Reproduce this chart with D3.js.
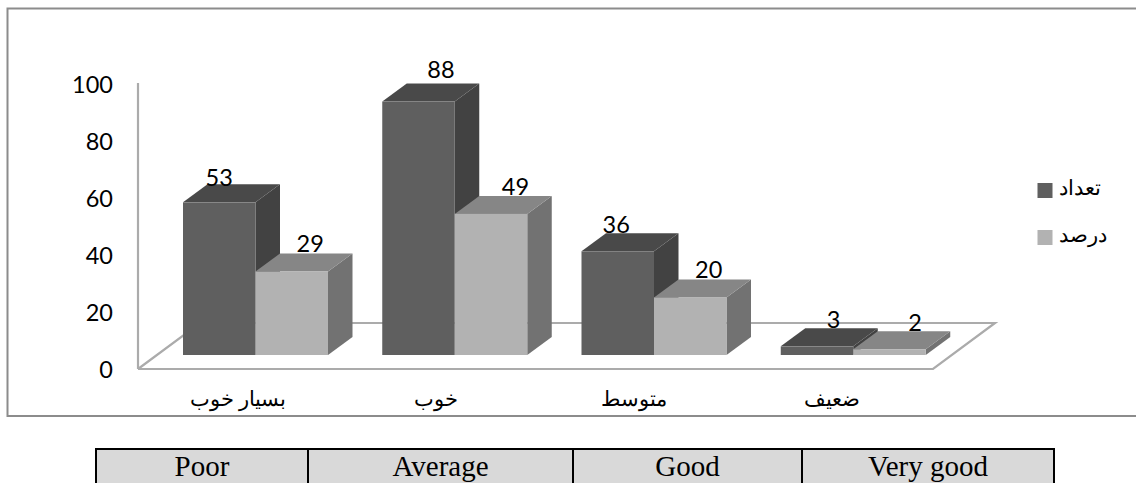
<!DOCTYPE html>
<html><head><meta charset="utf-8">
<script src="https://cdn.jsdelivr.net/npm/d3@7/dist/d3.min.js"></script>
<style>html,body{margin:0;padding:0;background:#fff;overflow:hidden}svg{display:block}</style>
</head><body><svg id="c" width="1136" height="483"></svg>
<script>
const categories = ["بسیار خوب", "خوب", "متوسط", "ضعیف"];
const seriesNames = ["تعداد", "درصد"];
const counts = [53, 88, 36, 3];
const percents = [29, 49, 20, 2];
const yTicks = [0, 20, 40, 60, 80, 100];
const tableLabels = ["Poor", "Average", "Good", "Very good"];

// layout
const latin = "Lato, 'Open Sans', sans-serif", arabic = "'Liberation Sans', Arial, sans-serif";
const baseY = 355, depthX = 24.5, depthY = 18, barW = 72.5;
const countNudge = [[-24.5, 3], [-2, -5], [-26, 1], [-8, 1]];
const percentNudge = [[-6, 0], [0, 0], [-6, 0], [1, 1]];
const palette = [
  {front: "#5f5f5f", side: "#424242", top: "#4a4a4a"},
  {front: "#b2b2b2", side: "#727272", top: "#868686"}
];

const svg = d3.select("#c");
const defs = svg.append("defs");
defs.append("filter").attr("id", "soft").append("feGaussianBlur").attr("stdDeviation", 0.45);

const x = d3.scaleBand().domain(categories).range([183, 980]).paddingInner(0);
const height = d3.scaleLinear().domain([0, 100]).range([0, 288]);
const tickY = d3.scaleLinear().domain([0, 100]).range([369.5, 85]);
const line = d3.line();

// frame
svg.append("path").attr("d", line([[1136, 8.5], [7.5, 8.5], [7.5, 416], [1136, 416]]))
  .attr("fill", "none").attr("stroke", "#8c8c8c").attr("stroke-width", 2);

// floor and wall
const g = svg.append("g").attr("filter", "url(#soft)");
g.append("path").attr("d", line([[138, 369], [933, 369], [995, 323], [200, 323], [138, 369]]))
  .attr("fill", "#fff").attr("stroke", "#ababab").attr("stroke-width", 2.2);
g.append("path").attr("d", line([[138, 369], [138, 83]]))
  .attr("fill", "none").attr("stroke", "#ababab").attr("stroke-width", 2.2);

// y labels
const yAxis = d3.axisLeft(tickY).tickValues(yTicks).tickSize(0).tickPadding(0);
const ya = svg.append("g").attr("transform", "translate(113,0)").call(yAxis);
ya.select(".domain").remove();
ya.selectAll("text").attr("font-family", latin).attr("font-size", 23.5).attr("fill", "#000");

// bars
const series = [counts, percents];
categories.forEach((c, i) => {
  series.forEach((vals, s) => {
    const v = vals[i], x0 = x(c) + s * barW, x1 = x0 + barW;
    const top = baseY - height(v), col = palette[s];
    const b = g.append("g").datum(v);
    b.append("path").attr("d", line([[x1, top], [x1 + depthX, top - depthY], [x1 + depthX, baseY - depthY], [x1, baseY]]) + "Z").attr("fill", col.side);
    b.append("path").attr("d", line([[x0, top], [x0 + depthX, top - depthY], [x1 + depthX, top - depthY], [x1, top]]) + "Z").attr("fill", col.top);
    b.append("rect").attr("x", x0).attr("y", top).attr("width", barW).attr("height", height(v)).attr("fill", col.front);
  });
});

// data labels
categories.forEach((c, i) => {
  series.forEach((vals, s) => {
    const v = vals[i], n = (s ? percentNudge : countNudge)[i];
    svg.append("text").text(v)
      .attr("x", x(c) + s * barW + barW * 0.5 + depthX + n[0])
      .attr("y", baseY - height(v) - depthY - 1 + n[1])
      .attr("text-anchor", "middle").attr("font-family", latin).attr("font-size", 23.5).attr("fill", "#000");
  });
});

// category labels
const xLabelCenters = d3.scalePoint().domain(categories).range([238, 832]);
svg.selectAll(".cat").data(categories).join("text").attr("class", "cat").text(d => d)
  .attr("x", d => xLabelCenters(d)).attr("y", 406).attr("direction", "rtl").attr("text-anchor", "middle")
  .attr("font-family", arabic).attr("font-size", 21).attr("fill", "#000");

// legend
const leg = svg.selectAll(".leg").data(seriesNames).join("g").attr("class", "leg")
  .attr("transform", (d, i) => `translate(1037.5,${183 + i * 47})`);
leg.append("rect").attr("width", 15).attr("height", 15).attr("fill", (d, i) => palette[i].front);
leg.append("text").text(d => d).attr("x", 21.5).attr("y", 12).attr("direction", "ltr")
  .attr("font-family", arabic).attr("font-size", 21).attr("fill", "#000");

// table
const edges = [96, 308, 573, 802, 1054];
const tableTop = 449;
const t = svg.append("g");
t.append("rect").attr("x", edges[0]).attr("y", tableTop).attr("width", edges[4] - edges[0]).attr("height", 50)
  .attr("fill", "#d9d9d9").attr("stroke", "#000").attr("stroke-width", 2);
edges.slice(1, 4).forEach(e => t.append("line").attr("x1", e).attr("x2", e).attr("y1", tableTop).attr("y2", 483).attr("stroke", "#000").attr("stroke-width", 2));
tableLabels.forEach((l, i) => t.append("text").text(l)
  .attr("x", (edges[i] + edges[i + 1]) / 2).attr("y", 476).attr("text-anchor", "middle")
  .attr("font-family", "'Liberation Serif', serif").attr("font-size", 29).attr("fill", "#000"));
</script></body></html>
